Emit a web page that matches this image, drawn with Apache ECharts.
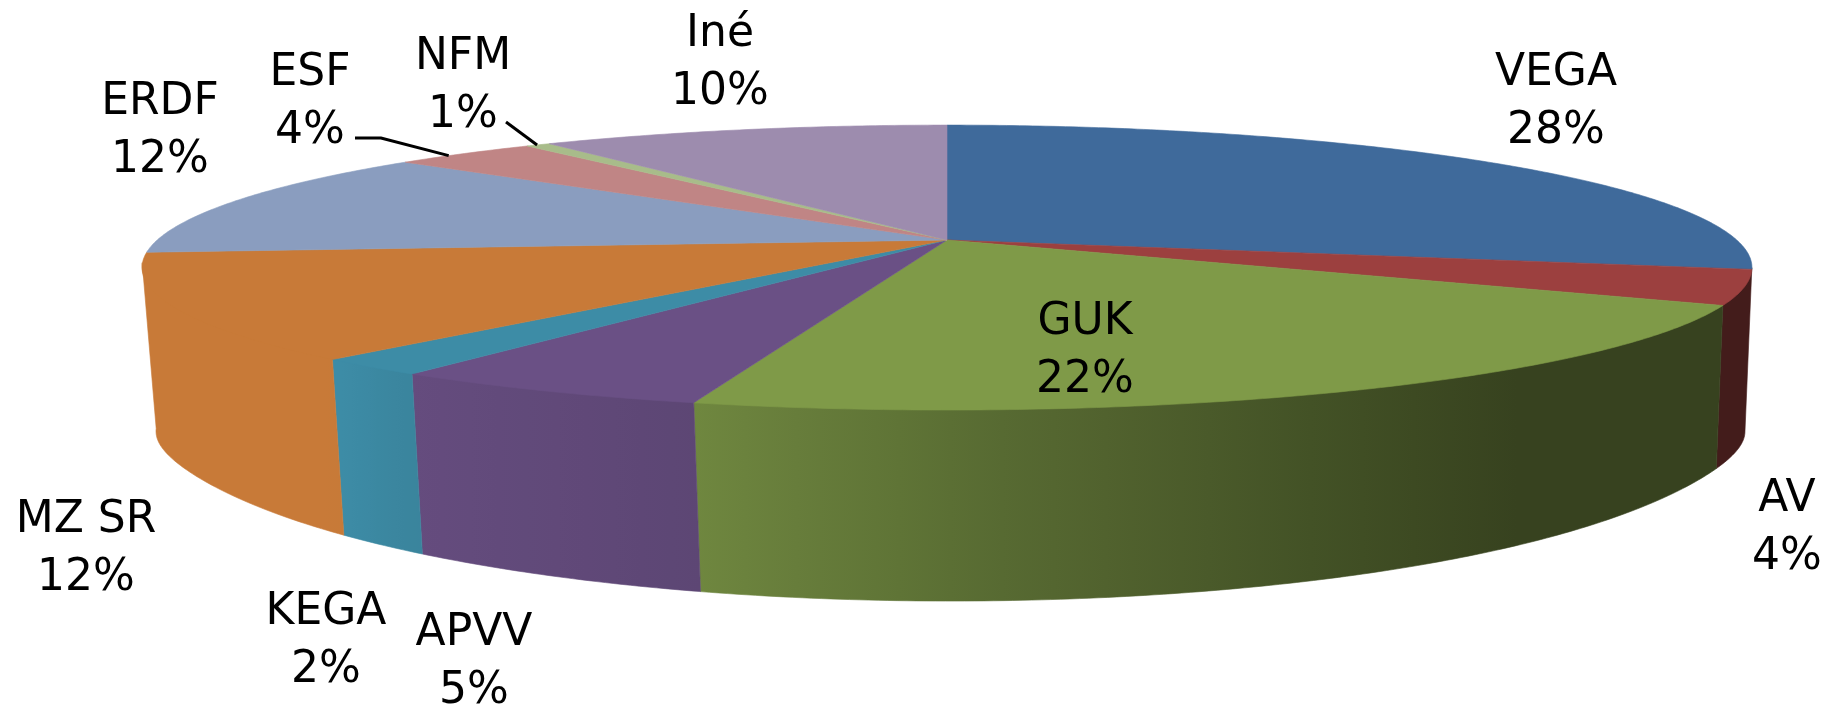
<!DOCTYPE html>
<html>
<head>
<meta charset="utf-8">
<style>html,body{margin:0;padding:0;background:#fff}#c{width:1837px;height:707px}</style>
<script src="https://cdn.jsdelivr.net/npm/echarts@6/dist/echarts.min.js"></script>
</head>
<body>
<div id="c"></div>
<script>
const categories = ['VEGA','AV','GUK','APVV','KEGA','MZ SR','ERDF','ESF','NFM','Iné'];
const shares = [28.3,3.9,22.0,5.45,1.95,12.0,12.4,3.5,0.6,9.9];

const palette = ['#3F6A9B','#9C403F','#7F9A48','#6A5085','#3D8CA6','#C87A38','#8A9DBF','#C08585','#A8BC8A','#9D8CAE'];
// label centres and leader lines are layout, not data
const labelAt = [[1556,103],[1787,529],[1085,352],[474,663],[326,642],[86,550],[160,132],[310,103],[463,87],[720,64]];
const leaderFrom = {7:[[355,138],[381,138]],8:[[506,122]]};
const leaderRim = {7:0.37,8:0.45};

const cam = {cx:947,cy:240,d:5.17,f:4083,g:709,cxB:950.5,sxB:0.987,cyB:379,gB:926,corner:22};
const total = shares.reduce((a,b)=>a+b,0);
const starts = [];
shares.reduce((acc,v,i)=>{starts[i]=acc;return acc+v;},0);
const ang = s => s/total*2*Math.PI;

function topPt(t){
  const X=Math.sin(t),Y=Math.cos(t),w=cam.d+Y;
  return [cam.cx+cam.f*X/w, cam.cy-cam.g*Y/w];
}
function botPt(t){
  const X=Math.sin(t),Y=Math.cos(t),w=cam.d+Y;
  return [cam.cxB+cam.sxB*cam.f*X/w, cam.cyB-cam.gB*Y/w+cam.corner*Math.pow(X,16)];
}
const lightStops=[[0,1],[340,1],[408,.95],[697,.875],[1000,.69],[1510,.43],[1837,.43]];
function shade(x){
  for(let i=1;i<lightStops.length;i++){
    if(x<=lightStops[i][0]){
      const a=lightStops[i-1],b=lightStops[i];
      return a[1]+(b[1]-a[1])*(x-a[0])/(b[0]-a[0]);
    }
  }
  return lightStops[lightStops.length-1][1];
}
function mul(hex,k){
  const n=parseInt(hex.slice(1),16);
  return 'rgb('+[(n>>16)&255,(n>>8)&255,n&255].map(c=>Math.round(c*k)).join(',')+')';
}
const wallFrom=102*Math.PI/180, wallTo=260*Math.PI/180;

function renderSlice(params,api){
  const i=params.dataIndex, value=api.value(0);
  const a0=ang(starts[i]), a1=a0+value/total*2*Math.PI;
  const color=palette[i];
  const children=[];
  const w0=Math.max(a0,wallFrom), w1=Math.min(a1,wallTo);
  if(w1>w0){
    const n=Math.max(4,Math.ceil((w1-w0)/0.01));
    const tops=[],bots=[];
    for(let k=0;k<=n;k++){
      const t=w0+(w1-w0)*k/n;
      const p=topPt(t);
      tops.push([p[0],p[1]-2]);bots.push(botPt(t));
    }
    const pts=tops.concat(bots.reverse());
    const xs=pts.map(p=>p[0]);
    const xa=Math.min.apply(null,xs), xb=Math.max.apply(null,xs);
    const stops=[];
    for(let k=0;k<=10;k++){
      const x=xa+(xb-xa)*k/10;
      stops.push({offset:k/10,color:mul(color,shade(x))});
    }
    const fill=new echarts.graphic.LinearGradient(xa,0,xb,0,stops,true);
    children.push({type:'polygon',shape:{points:pts},z2:1,
      style:{fill:fill,stroke:fill,lineWidth:.6}});
  }
  const n=Math.max(2,Math.ceil((a1-a0)/0.01));
  const face=[[cam.cx,cam.cy]];
  for(let k=0;k<=n;k++) face.push(topPt(a0+(a1-a0)*k/n));
  children.push({type:'polygon',shape:{points:face},z2:10,
    style:{fill:color,stroke:color,lineWidth:.6}});
  if(leaderFrom[i]){
    const end=topPt(a0+(a1-a0)*leaderRim[i]);
    children.push({type:'polyline',shape:{points:leaderFrom[i].concat([end])},z2:20,
      style:{fill:'none',stroke:'#000',lineWidth:3}});
  }
  children.push({type:'text',z2:30,
    style:{x:labelAt[i][0],y:labelAt[i][1],
      text:categories[i]+'\n'+Math.round(value)+'%',
      fill:'#000',align:'center',verticalAlign:'middle',
      fontFamily:'DejaVu Sans',fontSize:44,lineHeight:58}});
  return {type:'group',children:children};
}

const chart=echarts.init(document.getElementById('c'),null,{renderer:'canvas'});
chart.setOption({
  animation:false,
  backgroundColor:'#fff',
  series:[{
    type:'custom',
    coordinateSystem:'none',
    silent:true,
    clip:false,
    renderItem:renderSlice,
    data:shares.map((v,i)=>({name:categories[i],value:v}))
  }]
});
</script>
</body>
</html>
